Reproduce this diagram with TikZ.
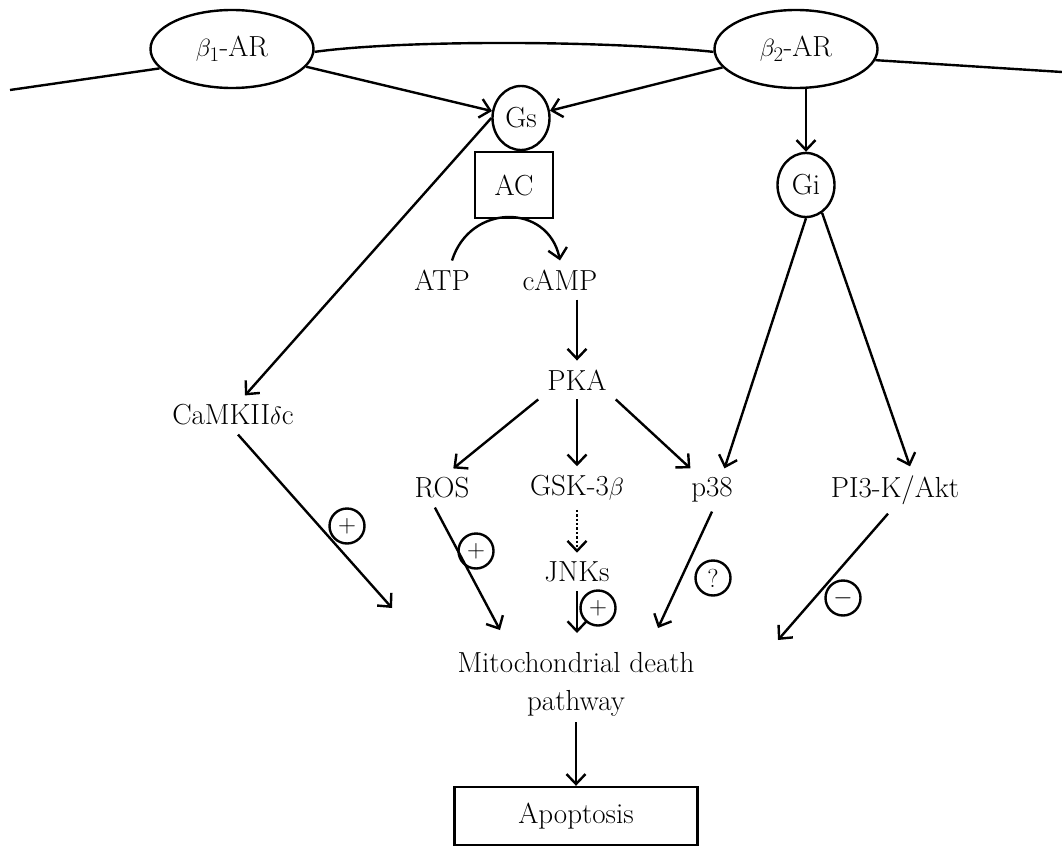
\documentclass[tikz,border=0pt]{standalone}
\usepackage{amsmath}
\usepackage{tikz}
\usetikzlibrary{shapes.geometric,arrows.meta}

\begin{document}
\begin{tikzpicture}[x=1pt,y=-1pt,line width=2.4pt,
    font={\fontsize{29}{38}\selectfont},
    receptor/.style={draw,ellipse,minimum width=163pt,minimum height=78pt,inner sep=0pt},
    gprot/.style={draw,ellipse,minimum width=57pt,minimum height=64pt,inner sep=0pt},
    txt/.style={inner sep=8pt},
    sign/.style={draw,circle,minimum size=35pt,inner sep=0pt,font={\fontsize{26}{26}\selectfont}},
    arr/.style={-{Straight Barb[length=10pt,width=19pt]}}]
    \useasboundingbox (0,0) rectangle (1062,848);

    % Receptors in the membrane
    \node[receptor] (b1) at (232,49) {$\beta_1$-AR};
    \node[receptor] (b2) at (796,49) {$\beta_2$-AR};
    \coordinate (memL) at (10,90);
    \coordinate (memR) at (1062,72);
    \draw (memL) -- (b1.195);
    \draw (b1.358) .. controls (400,40) and (600,40) .. (b2.182);
    \draw (b2.352) -- (memR);

    % G proteins and adenylyl cyclase
    \node[gprot] (gs) at (521,118) {Gs};
    \node[draw,minimum width=78pt,minimum height=66pt,inner sep=0pt] (ac) at (514,185) {AC};
    \node[gprot] (gi) at (806,185) {Gi};
    \draw[arr] (b1) -- (gs);
    \draw[arr] (b2) -- (gs);
    \draw[arr] (b2.south -| gi.north) -- (gi.north);

    % Second messengers
    \node[txt] (atp) at (442,280) {ATP};
    \node[txt] (camp) at (560,280) {cAMP};
    \node[txt] (pka) at (577,380) {PKA};
    \draw[arr] ([xshift=10pt]atp.north) .. controls (470,203) and (548,203) .. (camp.north);
    \draw[arr] (camp.south -| pka.north) -- (pka.north);

    % Kinases
    \node[txt] (camk) at (233,415) {CaMKII$\delta$c};
    \node[txt] (ros) at (442,488) {ROS};
    \node[txt] (gsk) at (577,488) {GSK-3$\beta$};
    \node[txt] (p38) at (712,490) {p38};
    \node[txt] (pik) at (895,490) {PI3-K/Akt};
    \node[txt] (jnk) at (577,572) {JNKs};
    \draw[arr] (gs.west) -- ([xshift=12pt]camk.north);
    \draw[arr] (pka.south west) -- (ros.60);
    \draw[arr] (pka.south) -- (gsk.north);
    \draw[arr] (pka.south east) -- (p38.135);
    \draw[arr] (gi.south) -- (p38.60);
    \draw[arr] (gi.300) -- ([xshift=15pt]pik.north);
    \draw[arr,dotted] (gsk.south) -- (jnk.north);

    % Mitochondrial death pathway
    \node[txt,inner sep=5pt,align=center] (mito) at (576,684) {Mitochondrial death\\pathway};
    \node[draw,minimum width=243pt,minimum height=58pt] (apo) at (576,816) {Apoptosis};
    \coordinate (mCamk) at (392,608);
    \coordinate (mRos) at (500,630);
    \coordinate (mJnk) at (577,633);
    \coordinate (mP38) at (658,628);
    \coordinate (mPik) at (778,640);
    \draw[arr] ([xshift=5pt]camk.south) -- (mCamk);
    \draw[arr] (ros.250) -- (mRos);
    \draw[arr] (jnk.south) -- (mJnk);
    \draw[arr] (p38.south) -- (mP38);
    \draw[arr] ([xshift=-7pt]pik.south) -- (mPik);
    \draw[arr] (mito.south) -- (apo.north);

    % Effect signs
    \node[sign] (s1) at (347,526) {$+$};
    \node[sign] (s2) at (476,551) {$+$};
    \node[sign] (s3) at (598,608) {$+$};
    \node[sign] (s4) at (713,578) {?};
    \node[sign] (s5) at (843,598) {$-$};
\end{tikzpicture}
\end{document}
